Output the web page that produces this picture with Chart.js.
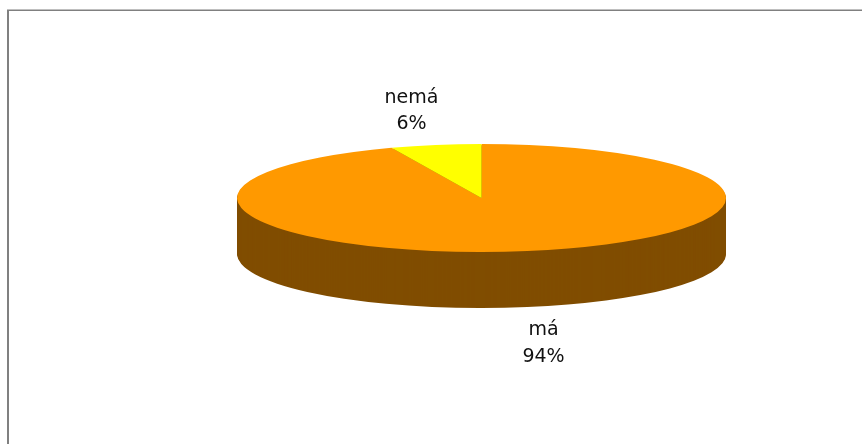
<!DOCTYPE html>
<html>
<head>
<meta charset="utf-8">
<style>
  html, body { margin: 0; padding: 0; background: #fff; overflow: hidden; }
  canvas { display: block; }
</style>
<script src="https://cdn.jsdelivr.net/npm/chart.js@4/dist/chart.umd.min.js"></script>
</head>
<body>
<canvas id="pie" width="862" height="444"></canvas>
<script>
const labels = ["má", "nemá"];
const values = [94, 6];
const colors = ["#ff9900", "#ffff00"];
const sideColors = ["#804d00", "#808000"];

// label centre x and the baselines of its two lines
const labelPlaces = [
  { x: 543.5, y1: 335, y2: 362 },
  { x: 411.5, y1: 103, y2: 129 },
];

const rx = 244.5;
const ry = 54;
const depth = 56;

function squash(chart, ctx, dy) {
  const arc = chart.getDatasetMeta(0).data[0];
  ctx.translate(arc.x, arc.y + dy);
  ctx.scale(1, ry / rx);
  ctx.translate(-arc.x, -arc.y);
}

const tiltPlugin = {
  id: "tilt",
  beforeDatasetDraw(chart) {
    const ctx = chart.ctx;
    const arcs = chart.getDatasetMeta(0).data;
    // side wall: the same arcs stacked downwards in the dark colours
    for (let dy = depth; dy >= 1; dy--) {
      ctx.save();
      squash(chart, ctx, dy);
      arcs.forEach((arc, i) => {
        const old = arc.options;
        arc.options = Object.assign({}, old, { backgroundColor: sideColors[i] });
        arc.draw(ctx);
        arc.options = old;
      });
      ctx.restore();
    }
    ctx.save();
    squash(chart, ctx, 0);
  },
  afterDatasetDraw(chart) {
    chart.ctx.restore();
  },
  afterDraw(chart) {
    const ctx = chart.ctx;
    ctx.save();
    // frame, runs off the right and bottom of the picture
    ctx.strokeStyle = "#808080";
    ctx.lineWidth = 2;
    ctx.beginPath();
    ctx.moveTo(8, 444);
    ctx.lineTo(8, 10);
    ctx.stroke();
    ctx.lineWidth = 1.5;
    ctx.beginPath();
    ctx.moveTo(7, 10.25);
    ctx.lineTo(862, 10.25);
    ctx.stroke();
    // data labels
    ctx.fillStyle = "#111111";
    ctx.font = '19px "DejaVu Sans"';
    ctx.textAlign = "center";
    labels.forEach((name, i) => {
      const p = labelPlaces[i];
      ctx.fillText(name, p.x, p.y1);
      ctx.fillText(values[i] + "%", p.x, p.y2);
    });
    ctx.restore();
  },
};

new Chart(document.getElementById("pie"), {
  type: "pie",
  data: {
    labels: labels,
    datasets: [
      {
        data: values,
        backgroundColor: colors,
        borderWidth: 0,
        clip: false,
      },
    ],
  },
  options: {
    responsive: false,
    animation: false,
    radius: rx,
    layout: { padding: { left: 101, bottom: 48 } },
    events: [],
    plugins: {
      legend: { display: false },
      tooltip: { enabled: false },
    },
  },
  plugins: [tiltPlugin],
});
</script>
</body>
</html>
